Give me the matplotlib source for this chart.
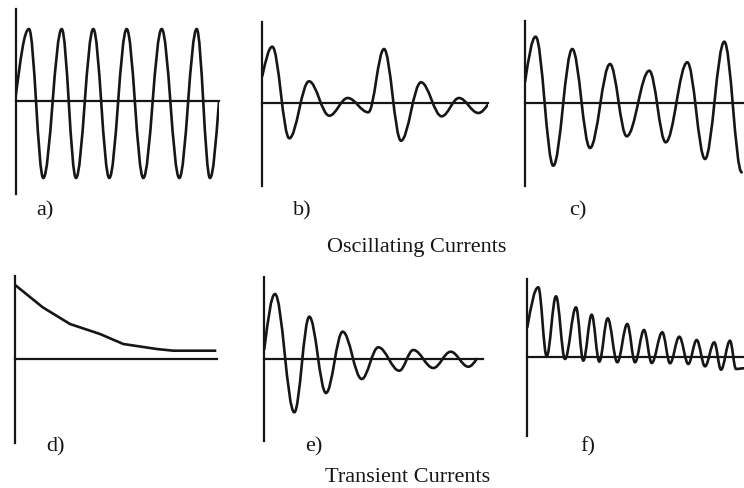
import matplotlib

matplotlib.use("Agg")
import matplotlib.pyplot as plt
from matplotlib.path import Path
from matplotlib.patches import PathPatch

# values: time from the vertical axis, amplitude above the baseline
# (a) steady oscillation: start, then peak/trough turning points, then end
a_t = [0, 13.3, 27.6, 46, 60.3, 77.6, 93.6, 111, 127.6, 146, 163.6, 181, 194.3, 203.3]
a_y = [5, 72.3, -76.7, 72.3, -76.7, 72.3, -76.7, 72.3, -76.7, 72.3, -76.7, 72.3, -76.7, 0]

# (b) beating, two decaying bursts
b_t = [0, 10, 27, 46.7, 67, 85.4, 106, 121.7, 138.7, 158.7, 179.4, 196.7, 216, 226]
b_y = [27.3, 56.6, -35, 22, -12.4, 5.3, -9, 54.3, -37.4, 21, -13, 5.3, -9.7, -0.7]

# (c) modulated oscillation
c_t = [0, 10.7, 28.3, 47.3, 65, 85, 101.7, 124.3, 140.7, 162.3, 180, 199.3, 216.7]
c_y = [20.7, 66, -63, 53.7, -45.3, 38.7, -33.6, 32, -39.6, 40.4, -56.3, 61, -69.6]

# (d) exponential-like decay
d_t = [0.7, 27.4, 54.7, 84.7, 108, 141.4, 158, 199.7]
d_y = [73.3, 51.7, 35, 25, 15, 10, 8.3, 8.3]

# (e) damped oscillation
e_t = [0, 10.7, 30, 45, 61.7, 78.4, 97.4, 114, 135, 149, 169, 186.4, 204, 212.4]
e_y = [10, 65, -53.3, 42.3, -34, 27.3, -20, 11.7, -11.7, 9, -9, 7.3, -7.7, 0]

# (f) damped, offset oscillation
f_t = [0, 11, 19.4, 28.7, 37.7, 48.7, 56, 64.4, 72, 80.4, 90, 100, 107.7, 116.7,
       124.4, 135, 142.7, 152, 161, 169.4, 177.7, 187, 193.7, 202.7, 208.7, 216.7]
f_y = [30, 70, 1, 61, -1.7, 50, -3.4, 42.6, -4.4, 39, -5, 33.3, -5, 27.3,
       -5.7, 25, -6, 20.6, -6.7, 17.3, -9, 15, -12.4, 16.6, -11.7, -11]

labels = ["a)", "b)", "c)", "d)", "e)", "f)"]
titles = ["Oscillating Currents", "Transient Currents"]

W, H = 744, 489
INK = "#161616"

# panel boxes in pixels: axis x, baseline y, width, height above, depth below
boxes = {
    "a": (15.7, 102.3, 203.3, 92.3, 92.7),
    "b": (262.3, 104.3, 226.0, 81.6, 82.4),
    "c": (525.0, 103.7, 219.0, 82.0, 83.0),
    "d": (15.3, 360.0, 202.0, 83.3, 84.0),
    "e": (264.3, 360.0, 218.4, 81.7, 81.7),
    "f": (527.3, 358.3, 216.7, 78.3, 78.3),
}
label_pos = [(36.7, 215.5), (293.3, 215.5), (568.7, 215.5),
             (46.7, 451.5), (305.0, 451.5), (580.3, 451.5)]
title_pos = [(327.0, 251.7), (325.0, 481.7)]


def wave_path(t, y, free_start=True, free_end=False, k=0.364):
    verts = [(t[0], y[0])]
    codes = [Path.MOVETO]
    n = len(t)
    for i in range(n - 1):
        dt = t[i + 1] - t[i]
        dy = y[i + 1] - y[i]
        c1 = (t[i] + k * dt, y[i])
        c2 = (t[i + 1] - k * dt, y[i + 1])
        if i == 0 and free_start:
            c1 = (t[i] + k * dt, y[i] + k * 1.5 * dy)
        if i == n - 2 and free_end:
            c2 = (t[i + 1] - k * dt, y[i + 1] - k * 1.5 * dy)
        verts += [c1, c2, (t[i + 1], y[i + 1])]
        codes += [Path.CURVE4] * 3
    return Path(verts, codes)


def make_axes(fig, key):
    x0, base, w, up, down = boxes[key]
    ax = fig.add_axes([x0 / W, 1 - (base + down) / H, w / W, (up + down) / H])
    ax.set_xlim(0, w)
    ax.set_ylim(-down, up)
    ax.patch.set_visible(False)
    for s in ["top", "right"]:
        ax.spines[s].set_visible(False)
    ax.spines["bottom"].set_position(("data", 0))
    for s in ["left", "bottom"]:
        ax.spines[s].set_linewidth(1.6)
        ax.spines[s].set_color(INK)
    ax.set_xticks([])
    ax.set_yticks([])
    return ax


fig = plt.figure(figsize=(W / 100, H / 100), dpi=100)

waves = {
    "a": (a_t, a_y, True, True),
    "b": (b_t, b_y, True, True),
    "c": (c_t, c_y, True, False),
    "e": (e_t, e_y, True, True),
    "f": (f_t, f_y, True, False),
}
for key, (t, y, fs, fe) in waves.items():
    ax = make_axes(fig, key)
    ax.add_patch(PathPatch(wave_path(t, y, fs, fe), fill=False, lw=1.9,
                           edgecolor=INK, capstyle="round", joinstyle="round"))

ax_d = make_axes(fig, "d")
ax_d.plot(d_t, d_y, color=INK, lw=1.9)

for lab, (x, y) in zip(labels, label_pos):
    fig.text(x / W, 1 - y / H, lab, family="Liberation Serif", fontsize=16,
             ha="left", va="baseline", color=INK)
for ttl, (x, y) in zip(titles, title_pos):
    fig.text(x / W, 1 - y / H, ttl, family="Liberation Serif", fontsize=16,
             ha="left", va="baseline", color=INK)

fig.savefig("out.png", dpi=100, facecolor="white")
